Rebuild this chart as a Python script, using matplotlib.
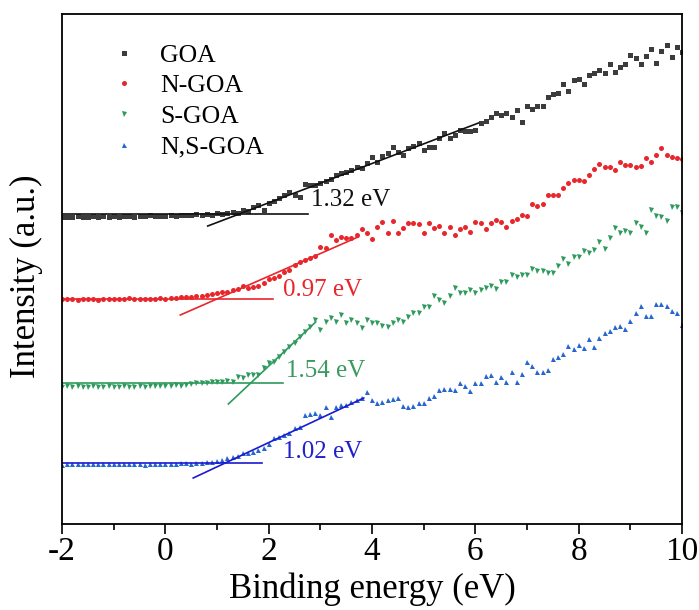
import numpy as np
import matplotlib
matplotlib.use('Agg')
import matplotlib.pyplot as plt
from matplotlib.ticker import MultipleLocator

plt.rcParams['font.family'] = ['Liberation Serif', 'DejaVu Serif']
plt.rcParams['axes.unicode_minus'] = False

# binding energy grid (eV)
energy = np.linspace(-2.0, 10.0, 121)

goa = [307, 307, 307, 308, 307, 307, 308, 307, 308, 307, 308,
       307, 308, 308, 307, 308, 308, 309, 308, 308, 308,
       309, 308, 309, 309, 309, 310, 309, 310, 309, 311,
       310, 311, 312, 311, 314, 313, 317, 319, 314, 321,
       323, 326, 329, 332, 329, 327, 340, 339, 339, 341,
       343, 345, 349, 351, 352, 354, 357, 356, 361, 367,
       362, 368, 371, 377, 372, 369, 376, 378, 381, 374,
       377, 377, 386, 391, 386, 389, 394, 393, 393, 394,
       401, 403, 407, 411, 409, 411, 407, 414, 402, 418,
       415, 418, 418, 427, 430, 431, 440, 433, 444, 445,
       440, 449, 451, 454, 451, 460, 452, 457, 460, 469,
       466, 460, 468, 475, 461, 473, 479, 467, 477, 472]

n_goa = [225, 225, 225, 224, 225, 225, 225, 224, 225, 225, 225,
         225, 225, 226, 225, 225, 225, 225, 225, 226, 225,
         226, 226, 227, 227, 227, 228, 228, 229, 230, 231,
         232, 232, 234, 235, 238, 236, 237, 238, 241, 245,
         246, 248, 252, 254, 259, 262, 264, 266, 268, 277,
         276, 289, 284, 287, 286, 286, 289, 295, 291, 285,
         297, 302, 291, 303, 291, 296, 301, 301, 300, 291,
         301, 296, 298, 291, 297, 289, 295, 297, 292, 302,
         301, 295, 301, 304, 302, 297, 303, 305, 309, 308,
         320, 318, 320, 329, 329, 329, 336, 341, 344, 344,
         343, 349, 355, 360, 357, 357, 354, 362, 359, 359,
         357, 358, 366, 362, 369, 376, 369, 367, 366, 365]

s_goa = [137, 138, 137, 138, 137, 137, 138, 137, 137, 138, 137,
         137, 138, 137, 137, 138, 137, 138, 138, 138, 138,
         138, 139, 138, 139, 140, 141, 141, 141, 142, 142,
         142, 143, 142, 147, 146, 149, 149, 149, 156, 161,
         162, 167, 172, 177, 181, 187, 192, 197, 204, 194,
         202, 206, 202, 209, 201, 204, 201, 196, 204, 201,
         201, 198, 197, 201, 204, 202, 207, 211, 211, 217,
         217, 228, 224, 221, 228, 236, 231, 231, 234, 231,
         234, 236, 238, 235, 242, 242, 249, 247, 249, 249,
         255, 253, 253, 251, 251, 258, 265, 260, 267, 267,
         273, 271, 274, 282, 275, 286, 296, 291, 293, 291,
         301, 297, 291, 314, 308, 307, 303, 317, 317, 311]

ns_goa = [59, 60, 60, 60, 60, 60, 60, 60, 60, 60, 60,
          60, 60, 60, 60, 60, 59, 60, 60, 60, 60,
          60, 60, 61, 61, 60, 61, 61, 62, 62, 63,
          64, 66, 67, 68, 71, 71, 72, 74, 76, 80,
          86, 87, 89, 91, 96, 97, 109, 110, 111, 109,
          117, 107, 117, 119, 119, 122, 124, 126, 132, 124,
          121, 122, 124, 125, 126, 118, 117, 118, 121, 121,
          126, 128, 134, 135, 135, 134, 141, 138, 133, 141,
          141, 148, 149, 142, 147, 142, 152, 142, 150, 162,
          158, 152, 152, 154, 165, 167, 170, 178, 175, 179,
          176, 185, 177, 186, 191, 193, 197, 198, 195, 203,
          211, 218, 208, 208, 220, 220, 218, 213, 211, 199]

labels = ['GOA', 'N-GOA', 'S-GOA', 'N,S-GOA']
markers = ['s', 'o', 'v', '^']
marker_colors = ['#3c3c3c', '#e8262b', '#2e9a5c', '#2566d0']
line_colors = ['#111111', '#e8262b', '#2e9a5c', '#1a1ad0']
text_colors = ['#111111', '#e8262b', '#3a9a60', '#2020cc']

# band gap extrapolations: baseline level and end, slope line ends
gaps = ['1.32 eV', '0.97 eV', '1.54 eV', '1.02 eV']
base_level = [310, 225, 141, 61]
base_end = [2.76, 2.08, 2.27, 1.88]
slope_x = [(0.82, 6.06), (0.29, 3.73), (1.22, 2.91), (0.54, 3.84)]
slope_y = [(298, 401), (209, 287), (120, 202), (46, 126)]
label_xy = [(2.82, 324), (2.27, 234), (2.33, 153), (2.27, 72)]

fig = plt.figure(figsize=(6.99, 6.10), dpi=100)
ax = fig.add_axes([0.0887, 0.141, 0.887, 0.836])

for i, ys in enumerate([goa, n_goa, s_goa, ns_goa]):
    ax.plot(energy, ys, linestyle='none', marker=markers[i], markersize=3.6,
            color=marker_colors[i], markeredgewidth=0, label=labels[i])

for i in range(4):
    ax.plot([-2, base_end[i]], [base_level[i], base_level[i]],
            color=line_colors[i], lw=1.2)
    ax.plot(slope_x[i], slope_y[i], color=line_colors[i], lw=1.2)
    ax.text(label_xy[i][0], label_xy[i][1], gaps[i], color=text_colors[i],
            fontsize=18, va='center', ha='left')

ax.set_xlim(-2, 10)
ax.set_ylim(0, 510)
ax.xaxis.set_major_locator(MultipleLocator(2))
ax.xaxis.set_minor_locator(MultipleLocator(1))
ax.tick_params(axis='x', which='major', direction='out', length=7, width=1.2,
               labelsize=24, pad=2)
ax.tick_params(axis='x', which='minor', direction='out', length=4, width=1.2)
ax.set_yticks([])
for sp in ax.spines.values():
    sp.set_linewidth(1.3)

ax.set_xlabel('Binding energy (eV)', fontsize=25, labelpad=4)
ax.set_ylabel('Intensity (a.u.)', fontsize=25)
ax.yaxis.set_label_coords(-0.030, 0.486)

leg = ax.legend(loc='upper left', bbox_to_anchor=(0.044, 0.987), frameon=False,
                fontsize=18.5, handletextpad=0.95, labelspacing=0.3,
                handlelength=0.9, markerscale=1.0)

fig.savefig('out.png', dpi=100)
